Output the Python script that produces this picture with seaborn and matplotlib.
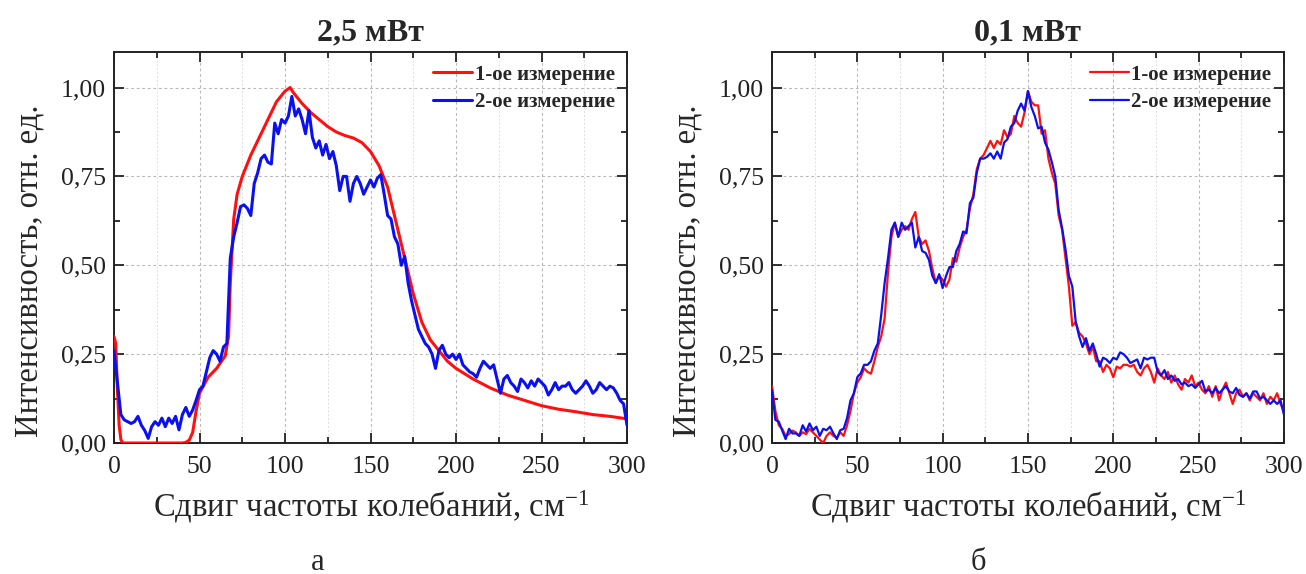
import numpy as np
import pandas as pd
import matplotlib
matplotlib.use("Agg")
import matplotlib.pyplot as plt
from matplotlib.ticker import MultipleLocator, FuncFormatter
import seaborn as sns

# ---------------- data ----------------
titles = ["2,5 мВт", "0,1 мВт"]
panel_letters = ["а", "б"]
series_names = ["1-ое измерение", "2-ое измерение"]
xlabel = "Сдвиг частоты колебаний, см$^{\\mathregular{-1}}$"
ylabel = "Интенсивность, отн. ед."

# Panel a, measurement 1 (smooth)
a1_x = [0, 1, 2, 3, 4, 5, 10, 20, 30, 40, 42, 44, 46, 48, 50, 55, 60, 65, 67, 68, 70, 72, 75,
        80, 85, 90, 95, 100, 103, 105, 110, 115, 120, 125, 130, 135, 140, 145, 150, 155, 160,
        165, 170, 175, 180, 185, 190, 195, 200, 210, 220, 230, 240, 250, 260, 270, 280, 290, 300]
a1_y = [0.30, 0.28, 0.15, 0.05, 0.01, 0.0, 0.0, 0.0, 0.0, 0.0, 0.002, 0.008, 0.03, 0.09, 0.14,
        0.185, 0.21, 0.245, 0.30, 0.45, 0.63, 0.70, 0.75, 0.81, 0.86, 0.91, 0.96, 0.99, 1.00,
        0.985, 0.955, 0.93, 0.91, 0.89, 0.875, 0.865, 0.858, 0.845, 0.82, 0.78, 0.72, 0.62,
        0.52, 0.42, 0.34, 0.29, 0.26, 0.23, 0.21, 0.18, 0.155, 0.135, 0.12, 0.105, 0.095,
        0.088, 0.08, 0.075, 0.068]

# Panel a, measurement 2 (noisy), x = 0, 2, ..., 300
a2_y = [0.26, 0.17, 0.08, 0.065, 0.06, 0.055, 0.06, 0.075, 0.05, 0.035,
        0.013, 0.046, 0.06, 0.05, 0.07, 0.046, 0.07, 0.055, 0.075, 0.037,
        0.08, 0.10, 0.075, 0.093, 0.12, 0.15, 0.16, 0.20, 0.24, 0.26,
        0.25, 0.23, 0.27, 0.28, 0.52, 0.58, 0.62, 0.665, 0.67, 0.66,
        0.64, 0.73, 0.76, 0.80, 0.81, 0.79, 0.785, 0.90, 0.87, 0.91,
        0.90, 0.92, 0.975, 0.92, 0.94, 0.91, 0.87, 0.935, 0.86, 0.83,
        0.85, 0.81, 0.84, 0.80, 0.82, 0.78, 0.71, 0.75, 0.75, 0.68,
        0.73, 0.75, 0.73, 0.70, 0.72, 0.74, 0.72, 0.745, 0.755, 0.70,
        0.64, 0.63, 0.58, 0.56, 0.50, 0.525, 0.45, 0.40, 0.36, 0.32,
        0.30, 0.28, 0.27, 0.25, 0.21, 0.26, 0.275, 0.25, 0.24, 0.25,
        0.235, 0.25, 0.22, 0.21, 0.20, 0.195, 0.185, 0.21, 0.23, 0.22,
        0.21, 0.22, 0.18, 0.14, 0.18, 0.19, 0.17, 0.16, 0.145, 0.18,
        0.17, 0.155, 0.175, 0.16, 0.18, 0.17, 0.16, 0.135, 0.15, 0.17,
        0.15, 0.16, 0.16, 0.17, 0.15, 0.14, 0.15, 0.16, 0.175, 0.16,
        0.14, 0.15, 0.17, 0.16, 0.15, 0.16, 0.155, 0.14, 0.12, 0.11, 0.05]

# Panel b, measurement 1, x = 0, 2, ..., 300
b1_y = [0.16, 0.09, 0.05, 0.04, 0.02, 0.025, 0.035, 0.03, 0.02, 0.03,
        0.025, 0.04, 0.03, 0.02, 0.01, 0.0, 0.02, 0.03, 0.02, 0.015,
        0.03, 0.02, 0.05, 0.09, 0.14, 0.17, 0.185, 0.21, 0.20, 0.195,
        0.23, 0.27, 0.30, 0.35, 0.48, 0.58, 0.62, 0.58, 0.60, 0.61,
        0.60, 0.63, 0.65, 0.58, 0.56, 0.57, 0.54, 0.49, 0.45, 0.47,
        0.46, 0.44, 0.46, 0.52, 0.51, 0.55, 0.58, 0.60, 0.66, 0.70,
        0.77, 0.80, 0.81, 0.83, 0.85, 0.83, 0.85, 0.84, 0.88, 0.86,
        0.87, 0.92, 0.90, 0.89, 0.93, 0.99, 0.96, 0.95, 0.95, 0.87,
        0.88, 0.80, 0.76, 0.73, 0.64, 0.60, 0.52, 0.44, 0.33, 0.34,
        0.31, 0.30, 0.28, 0.25, 0.27, 0.23, 0.23, 0.20, 0.22, 0.21,
        0.185, 0.215, 0.21, 0.22, 0.22, 0.215, 0.22, 0.20, 0.19, 0.21,
        0.22, 0.20, 0.17, 0.21, 0.19, 0.18, 0.20, 0.17, 0.19, 0.165,
        0.15, 0.18, 0.17, 0.19, 0.16, 0.17, 0.15, 0.14, 0.16, 0.13,
        0.16, 0.12, 0.15, 0.17, 0.14, 0.11, 0.14, 0.15, 0.13, 0.14,
        0.12, 0.14, 0.13, 0.12, 0.14, 0.11, 0.13, 0.12, 0.14, 0.11, 0.09]

# Panel b, measurement 2, x = 0, 2, ..., 300
b2_y = [0.15, 0.065, 0.06, 0.035, 0.011, 0.04, 0.027, 0.027, 0.02, 0.05,
        0.032, 0.055, 0.036, 0.046, 0.02, 0.04, 0.036, 0.046, 0.027, 0.011,
        0.036, 0.04, 0.07, 0.12, 0.14, 0.185, 0.196, 0.22, 0.22, 0.23,
        0.26, 0.28, 0.36, 0.45, 0.52, 0.60, 0.62, 0.58, 0.62, 0.60,
        0.61, 0.62, 0.55, 0.58, 0.54, 0.535, 0.515, 0.47, 0.45, 0.475,
        0.436, 0.47, 0.495, 0.495, 0.54, 0.56, 0.595, 0.59, 0.675, 0.69,
        0.76, 0.80, 0.80, 0.805, 0.815, 0.80, 0.82, 0.80, 0.845, 0.855,
        0.89, 0.90, 0.935, 0.955, 0.935, 0.99, 0.945, 0.92, 0.885, 0.89,
        0.845, 0.825, 0.79, 0.75, 0.655, 0.605, 0.545, 0.47, 0.44, 0.34,
        0.30, 0.27, 0.295, 0.26, 0.28, 0.25, 0.215, 0.24, 0.235, 0.225,
        0.24, 0.235, 0.255, 0.25, 0.24, 0.225, 0.23, 0.235, 0.21, 0.24,
        0.235, 0.24, 0.24, 0.20, 0.19, 0.205, 0.18, 0.19, 0.175, 0.18,
        0.165, 0.17, 0.16, 0.165, 0.155, 0.165, 0.175, 0.145, 0.15, 0.14,
        0.155, 0.14, 0.15, 0.16, 0.145, 0.14, 0.155, 0.135, 0.13, 0.14,
        0.125, 0.145, 0.145, 0.125, 0.13, 0.12, 0.11, 0.12, 0.11, 0.12, 0.08]

x_step2 = list(range(0, 301, 2))

# ---------------- style ----------------
sns.set_style("ticks")
plt.rcParams["font.family"] = ["Liberation Serif", "DejaVu Serif"]
plt.rcParams["mathtext.fontset"] = "custom"
plt.rcParams["mathtext.rm"] = "Liberation Serif"
plt.rcParams["mathtext.it"] = "Liberation Serif:italic"

RED = "#ff1010"
BLUE = "#0a10f0"

fig = plt.figure(figsize=(13.06, 5.74), dpi=100)
ax_a = fig.add_axes([0.0873, 0.2282, 0.3928, 0.6812])
ax_b = fig.add_axes([0.5911, 0.2282, 0.3920, 0.6812])

panels = [
    (ax_a, a1_x, a1_y, x_step2, a2_y, 2.2),
    (ax_b, x_step2, b1_y, x_step2, b2_y, 1.6),
]

fmt = FuncFormatter(lambda v, p: f"{v:.2f}".replace(".", ","))

for i, (ax, x1, y1, x2, y2, lw) in enumerate(panels):
    d1 = pd.DataFrame({"x": x1, "y": y1})
    d2 = pd.DataFrame({"x": x2, "y": y2})
    sns.lineplot(data=d1, x="x", y="y", ax=ax, color=RED, linewidth=lw,
                 label=series_names[0], zorder=3)
    sns.lineplot(data=d2, x="x", y="y", ax=ax, color=BLUE, linewidth=lw,
                 label=series_names[1], zorder=4)

    ax.set_xlim(0, 300)
    ax.set_ylim(0, 1.1)
    ax.xaxis.set_major_locator(MultipleLocator(50))
    ax.xaxis.set_minor_locator(MultipleLocator(25))
    ax.yaxis.set_major_locator(MultipleLocator(0.25))
    ax.yaxis.set_minor_locator(MultipleLocator(0.125))
    ax.yaxis.set_major_formatter(fmt)

    ax.grid(True, which="major", color="#b8b8b8", linestyle=(0, (2.5, 2.5)), linewidth=0.8)
    ax.grid(True, which="minor", axis="x", color="#dedede", linestyle=(0, (2, 2)), linewidth=0.7)
    ax.set_axisbelow(True)

    ax.tick_params(which="both", direction="in", top=True, right=True, width=1.3, colors="#222222")
    ax.tick_params(which="major", length=7, labelsize=18.5)
    ax.tick_params(axis="x", which="major", pad=9)
    ax.tick_params(axis="y", which="major", pad=6)
    ax.tick_params(which="minor", length=4)
    for s in ax.spines.values():
        s.set_linewidth(1.4)
        s.set_color("#222222")

    ax.set_xlabel(xlabel, fontsize=23.5, labelpad=8)
    ax.set_ylabel(ylabel, fontsize=23.5)
    ax.yaxis.set_label_coords(-0.135, 0.44)
    ax.set_title(titles[i], fontsize=23, fontweight="bold", pad=8)

    ax.legend(loc="upper right", frameon=False, prop={"weight": "bold", "size": 15},
              handlelength=1.9, handletextpad=0.1, labelspacing=0.35,
              borderaxespad=0.2)

fig.text(318 / 1306, 1 - 562 / 574, panel_letters[0], fontsize=22, ha="center", va="center")
fig.text(978 / 1306, 1 - 562 / 574, panel_letters[1], fontsize=22, ha="center", va="center")

fig.savefig("out.png", dpi=100)
